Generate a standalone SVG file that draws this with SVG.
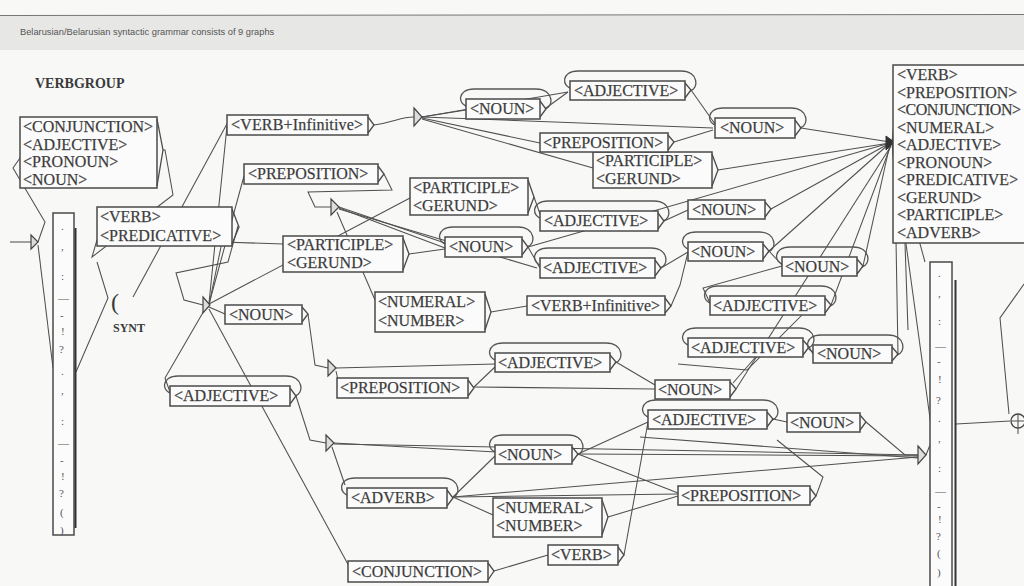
<svg xmlns="http://www.w3.org/2000/svg" width="1024" height="586" viewBox="0 0 1024 586">
<style>
.bg{fill:#f8f8f7}
.b{fill:#fbfbfb;stroke:#4a4a4a;stroke-width:1.5}
.o{fill:none;stroke:#4a4a4a;stroke-width:1.3}
.lp{fill:none;stroke:#555;stroke-width:1.3}
.t{font-family:"Liberation Serif","Times New Roman",serif;font-size:16px;fill:#363636;stroke:#555;stroke-width:0.25}
.p{font-family:"Liberation Serif","Times New Roman",serif;font-size:11px;fill:#555}
.e{fill:none;stroke:#505050;stroke-width:1.05}
.st{fill:#ddd;stroke:#444;stroke-width:1.2}
</style>
<rect class="bg" x="0" y="0" width="1024" height="586"/>
<g id="header">
<rect x="0" y="15" width="1024" height="35" fill="#e7e7e6"/>
<line x1="0" y1="15.5" x2="1024" y2="14.5" stroke="#777" stroke-width="1.2"/>
<text x="20" y="35" font-family="Liberation Sans, Arial, sans-serif" font-size="9.3" fill="#555">Belarusian/Belarusian syntactic grammar consists of 9 graphs</text>
</g>
<text x="35" y="88" font-family="Liberation Serif, Times New Roman, serif" font-size="14" font-weight="bold" fill="#3a3a3a">VERBGROUP</text>

<g id="connectors">
<path class="e" d="M10,242 L31,242"/>
<path class="e" d="M38,242 L45,222 L13,168 L20,158"/>
<path class="e" d="M38,245 L53,368"/>
<path class="e" d="M163,150 L165,150 L173,195 L92,257 L97,240"/>
<path class="e" d="M76,372 L108,298 L97,262"/>
<path class="e" d="M133,297 L228,122"/>
<path class="e" d="M238,226 L228,262 L176,273 L184,300 L203,305"/>
<path class="e" d="M209,303 L227,126"/>
<path class="e" d="M209,304 L244,176"/>
<path class="e" d="M209,304 L410,198"/>
<path class="e" d="M209,305 L222,242 L283,244"/>
<path class="e" d="M209,307 L225,314"/>
<path class="e" d="M205,309 L165,378 L170,392"/>
<path class="e" d="M209,309 L350,568"/>
<path class="e" d="M374,125 C395,122 400,117 414,117"/>
<path class="e" d="M422,117 L466,110"/>
<path class="e" d="M422,117 L568,92"/>
<path class="e" d="M422,117 L713,128"/>
<path class="e" d="M422,118 L540,143"/>
<path class="e" d="M422,119 L593,168"/>
<path class="e" d="M546,108 L568,92"/>
<path class="e" d="M691,90 L715,124"/>
<path class="e" d="M674,142 L713,130"/>
<path class="e" d="M801,128 L890,142"/>
<path class="e" d="M718,170 L890,143"/>
<path class="e" d="M384,174 L392,190 L308,192 L315,207 L331,207"/>
<path class="e" d="M339,207 L445,243"/>
<path class="e" d="M339,208 L445,248"/>
<path class="e" d="M339,209 L537,268"/>
<path class="e" d="M337,212 L375,300"/>
<path class="e" d="M534,197 L540,214"/>
<path class="e" d="M409,254 L445,249"/>
<path class="e" d="M528,247 L890,143"/>
<path class="e" d="M528,247 L540,268"/>
<path class="e" d="M664,221 L688,210"/>
<path class="e" d="M771,209 L890,143"/>
<path class="e" d="M661,268 L688,252"/>
<path class="e" d="M769,251 L782,265"/>
<path class="e" d="M769,251 L890,143"/>
<path class="e" d="M863,266 L890,144"/>
<path class="e" d="M831,305 L891,145"/>
<path class="e" d="M782,266 L703,288 L710,303"/>
<path class="e" d="M491,312 L527,306"/>
<path class="e" d="M671,306 L680,285 L688,252"/>
<path class="e" d="M308,314 L315,365 L328,368"/>
<path class="e" d="M336,368 L496,364"/>
<path class="e" d="M336,371 L338,380"/>
<path class="e" d="M474,387 L655,389"/>
<path class="e" d="M474,387 L496,366"/>
<path class="e" d="M616,362 L655,385"/>
<path class="e" d="M736,389 L891,146"/>
<path class="e" d="M733,383 L760,352"/>
<path class="e" d="M809,347 L813,354"/>
<path class="e" d="M678,364 L747,370 L820,297"/>
<path class="e" d="M898,354 L896,240"/>
<path class="e" d="M905,243 L908,330"/>
<path class="e" d="M296,396 L310,440 L326,443"/>
<path class="e" d="M334,443 L496,452"/>
<path class="e" d="M334,444 L918,455"/>
<path class="e" d="M332,447 L345,485"/>
<path class="e" d="M578,454 L648,422"/>
<path class="e" d="M578,454 L678,493"/>
<path class="e" d="M578,454 L918,456"/>
<path class="e" d="M453,497 L495,456"/>
<path class="e" d="M453,497 L678,494"/>
<path class="e" d="M453,497 L493,515"/>
<path class="e" d="M453,497 L918,457"/>
<path class="e" d="M608,517 L678,496"/>
<path class="e" d="M494,571 L548,555"/>
<path class="e" d="M624,555 L648,422"/>
<path class="e" d="M773,419 L787,422"/>
<path class="e" d="M640,437 L918,458"/>
<path class="e" d="M866,422 L905,455 L918,455"/>
<path class="e" d="M816,496 L823,477 L777,440"/>
<path class="e" d="M926,455 L932,440"/>
<path class="e" d="M892,142 L933,440"/>
<path class="e" d="M892,142 L925,262"/>
<path class="e" d="M892,142 L899,75 M892,142 L899,92 M892,142 L899,110 M892,142 L899,127 M892,142 L899,145 M892,142 L899,162 M892,142 L899,180 M892,142 L899,197 M892,142 L899,215 M892,142 L899,232"/>
<path class="e" d="M956,424 L1010,421"/>
<path class="e" d="M1009,414 L1000,318 L1024,284"/>
</g>

<g id="states">
<polygon class="st" points="31,235 38,242 31,249"/>
<polygon class="st" points="203,297 210,305 203,313"/>
<polygon class="st" points="414,108 422,117 414,126"/>
<polygon class="st" points="331,199 339,207 331,215"/>
<polygon class="st" points="328,360 336,368 328,376"/>
<polygon class="st" points="326,435 334,443 326,451"/>
<polygon class="st" points="918,446 926,455 918,464"/>
<polygon fill="#333" stroke="#333" points="886,136 894,142 886,150"/>
<circle cx="1018" cy="421" r="7" fill="none" stroke="#444" stroke-width="1.3"/>
<path class="e" d="M1011,421 L1024,421 M1018,414 L1018,434"/>
</g>

<g id="synt">
<text x="111" y="310" font-family="Liberation Serif, serif" font-size="24" fill="#3a3a3a">(</text>
<text x="113" y="332" font-family="Liberation Serif, serif" font-size="12" font-weight="bold" fill="#3a3a3a">SYNT</text>
</g>

<g id="n-punct-left">
<rect class="b" x="53" y="213" width="21" height="322"/>
<line x1="75.5" y1="228" x2="75.5" y2="528" stroke="#333" stroke-width="2"/>
<text class="p" x="61" y="230">.</text><text class="p" x="61" y="250">,</text><text class="p" x="61" y="280">:</text><text class="p" x="58" y="302">—</text><text class="p" x="60" y="319">-</text><text class="p" x="61" y="335">!</text><text class="p" x="59" y="353">?</text><text class="p" x="61" y="375">.</text><text class="p" x="61" y="394">,</text><text class="p" x="61" y="425">:</text><text class="p" x="58" y="447">—</text><text class="p" x="60" y="464">-</text><text class="p" x="61" y="480">!</text><text class="p" x="59" y="497">?</text><text class="p" x="60" y="516">(</text><text class="p" x="60" y="534">)</text>
</g>
<g id="n-punct-right">
<rect class="b" x="930" y="262" width="22" height="330"/>
<line x1="955.5" y1="280" x2="955.5" y2="586" stroke="#333" stroke-width="2"/>
<text class="p" x="938" y="277">.</text><text class="p" x="938" y="297">,</text><text class="p" x="938" y="325">:</text><text class="p" x="935" y="350">—</text><text class="p" x="937" y="365">-</text><text class="p" x="938" y="383">!</text><text class="p" x="936" y="404">?</text><text class="p" x="938" y="422">.</text><text class="p" x="938" y="442">,</text><text class="p" x="938" y="472">:</text><text class="p" x="935" y="495">—</text><text class="p" x="937" y="510">-</text><text class="p" x="938" y="523">!</text><text class="p" x="936" y="540">?</text><text class="p" x="937" y="557">(</text><text class="p" x="937" y="576">)</text>
</g>

<g id="n-box1">
<rect class="b" x="20" y="117" width="137" height="71"/>
<path class="o" d="M157,119 L163,150 L157,186"/>
<text class="t" x="23" y="132">&lt;CONJUNCTION&gt;</text>
<text class="t" x="23" y="150">&lt;ADJECTIVE&gt;</text>
<text class="t" x="23" y="167">&lt;PRONOUN&gt;</text>
<text class="t" x="23" y="185">&lt;NOUN&gt;</text>
</g>
<g id="n-verbpred">
<rect class="b" x="97" y="207" width="135" height="39"/>
<path class="o" d="M232,209 L239,227 L232,244"/>
<text class="t" x="100" y="222">&lt;VERB&gt;</text>
<text class="t" x="100" y="241">&lt;PREDICATIVE&gt;</text>
</g>
<g id="n-bigbox">
<rect class="b" x="893" y="65" width="140" height="178"/>
<text class="t" x="897" y="80">&lt;VERB&gt;</text>
<text class="t" x="897" y="97.5">&lt;PREPOSITION&gt;</text>
<text class="t" x="897" y="115" textLength="124">&lt;CONJUNCTION&gt;</text>
<text class="t" x="897" y="132.5">&lt;NUMERAL&gt;</text>
<text class="t" x="897" y="150">&lt;ADJECTIVE&gt;</text>
<text class="t" x="897" y="167.5">&lt;PRONOUN&gt;</text>
<text class="t" x="897" y="185">&lt;PREDICATIVE&gt;</text>
<text class="t" x="897" y="202.5">&lt;GERUND&gt;</text>
<text class="t" x="897" y="220">&lt;PARTICIPLE&gt;</text>
<text class="t" x="897" y="237.5">&lt;ADVERB&gt;</text>
</g>

<g id="n-vinf1"><rect class="b" x="227" y="115" width="141" height="20"/><path class="o" d="M368,117 L374,125 L368,133"/><text class="t" x="231" y="130" textLength="132">&lt;VERB+Infinitive&gt;</text></g>
<g id="n-prep2"><rect class="b" x="244" y="164" width="134" height="20"/><path class="o" d="M378,166 L384,174 L378,182"/><text class="t" x="248" y="179">&lt;PREPOSITION&gt;</text></g>
<g id="n-pg1"><rect class="b" x="283" y="236" width="120" height="36"/><path class="o" d="M403,238 L409,254 L403,270"/><text class="t" x="287" y="250">&lt;PARTICIPLE&gt;</text><text class="t" x="287" y="268">&lt;GERUND&gt;</text></g>
<g id="n-pg2"><rect class="b" x="410" y="178" width="118" height="37"/><path class="o" d="M528,180 L534,197 L528,213"/><text class="t" x="413" y="193">&lt;PARTICIPLE&gt;</text><text class="t" x="413" y="211">&lt;GERUND&gt;</text></g>
<g id="n-pg3"><rect class="b" x="593" y="152" width="119" height="36"/><path class="o" d="M712,154 L718,170 L712,186"/><text class="t" x="596" y="166">&lt;PARTICIPLE&gt;</text><text class="t" x="596" y="184">&lt;GERUND&gt;</text></g>
<g id="n-numnum1"><rect class="b" x="375" y="292" width="110" height="40"/><path class="o" d="M485,294 L491,312 L485,330"/><text class="t" x="378" y="307">&lt;NUMERAL&gt;</text><text class="t" x="378" y="326">&lt;NUMBER&gt;</text></g>
<g id="n-numnum2"><rect class="b" x="493" y="498" width="109" height="39"/><path class="o" d="M602,500 L608,517 L602,535"/><text class="t" x="496" y="513">&lt;NUMERAL&gt;</text><text class="t" x="496" y="531">&lt;NUMBER&gt;</text></g>
<g id="n-vinf2"><rect class="b" x="527" y="296" width="138" height="19"/><path class="o" d="M665,298 L671,306 L665,313"/><text class="t" x="531" y="311" textLength="129">&lt;VERB+Infinitive&gt;</text></g>

<g id="n-noun1"><path class="lp" d="M469,107 C457,105 457,89 474,89 L536,89 C554,89 554,107 545,109"/><rect class="b" x="466" y="99" width="74" height="20"/><path class="o" d="M540,101 L546,109 L540,117"/><text class="t" x="470" y="114">&lt;NOUN&gt;</text></g>
<g id="n-adj1"><path class="lp" d="M573,89 C561,87 561,71 578,71 L681,71 C699,71 699,89 690,91"/><rect class="b" x="570" y="81" width="115" height="19"/><path class="o" d="M685,83 L691,90 L685,98"/><text class="t" x="574" y="96">&lt;ADJECTIVE&gt;</text></g>
<g id="n-prep1"><rect class="b" x="540" y="133" width="128" height="19"/><path class="o" d="M668,135 L674,142 L668,150"/><text class="t" x="543" y="148">&lt;PREPOSITION&gt;</text></g>
<g id="n-noun2"><path class="lp" d="M718,126 C706,124 706,108 723,108 L791,108 C809,108 809,126 800,128"/><rect class="b" x="715" y="118" width="80" height="20"/><path class="o" d="M795,120 L801,128 L795,136"/><text class="t" x="720" y="133">&lt;NOUN&gt;</text></g>
<g id="n-noun3"><path class="lp" d="M448,245 C436,243 436,227 453,227 L518,227 C536,227 536,245 527,247"/><rect class="b" x="445" y="237" width="77" height="20"/><path class="o" d="M522,239 L528,247 L522,255"/><text class="t" x="449" y="252">&lt;NOUN&gt;</text></g>
<g id="n-adj2"><path class="lp" d="M543,219 C531,217 531,201 548,201 L654,201 C672,201 672,219 663,221"/><rect class="b" x="540" y="211" width="118" height="20"/><path class="o" d="M658,213 L664,221 L658,229"/><text class="t" x="544" y="226">&lt;ADJECTIVE&gt;</text></g>
<g id="n-adj3"><path class="lp" d="M543,266 C531,264 531,248 548,248 L651,248 C669,248 669,266 660,268"/><rect class="b" x="540" y="258" width="115" height="20"/><path class="o" d="M655,260 L661,268 L655,276"/><text class="t" x="543" y="273">&lt;ADJECTIVE&gt;</text></g>
<g id="n-noun4"><rect class="b" x="688" y="200" width="77" height="19"/><path class="o" d="M765,202 L771,209 L765,217"/><text class="t" x="692" y="215">&lt;NOUN&gt;</text></g>
<g id="n-noun5"><path class="lp" d="M691,250 C679,248 679,232 696,232 L759,232 C777,232 777,250 768,252"/><rect class="b" x="688" y="242" width="75" height="19"/><path class="o" d="M763,244 L769,251 L763,259"/><text class="t" x="691" y="257">&lt;NOUN&gt;</text></g>
<g id="n-noun6"><path class="lp" d="M785,265 C773,263 773,247 790,247 L853,247 C871,247 871,265 862,267"/><rect class="b" x="782" y="257" width="75" height="19"/><path class="o" d="M857,259 L863,266 L857,274"/><text class="t" x="785" y="272">&lt;NOUN&gt;</text></g>
<g id="n-adj4"><path class="lp" d="M713,304 C701,302 701,286 718,286 L821,286 C839,286 839,304 830,306"/><rect class="b" x="710" y="296" width="115" height="19"/><path class="o" d="M825,298 L831,305 L825,313"/><text class="t" x="713" y="311">&lt;ADJECTIVE&gt;</text></g>
<g id="n-adj6"><path class="lp" d="M691,346 C679,344 679,328 696,328 L799,328 C817,328 817,346 808,348"/><rect class="b" x="688" y="338" width="115" height="19"/><path class="o" d="M803,340 L809,347 L803,355"/><text class="t" x="691" y="353">&lt;ADJECTIVE&gt;</text></g>
<g id="n-noun9"><path class="lp" d="M816,353 C804,351 804,335 821,335 L888,335 C906,335 906,353 897,355"/><rect class="b" x="813" y="345" width="79" height="18"/><path class="o" d="M892,347 L898,354 L892,361"/><text class="t" x="817" y="359">&lt;NOUN&gt;</text></g>
<g id="n-noun8"><rect class="b" x="655" y="380" width="75" height="19"/><path class="o" d="M730,382 L736,389 L730,397"/><text class="t" x="658" y="395">&lt;NOUN&gt;</text></g>
<g id="n-adj5"><path class="lp" d="M498,361 C486,359 486,343 503,343 L606,343 C624,343 624,361 615,363"/><rect class="b" x="495" y="353" width="115" height="19"/><path class="o" d="M610,355 L616,362 L610,370"/><text class="t" x="498" y="368">&lt;ADJECTIVE&gt;</text></g>
<g id="n-prep3"><rect class="b" x="337" y="378" width="131" height="20"/><path class="o" d="M468,380 L474,388 L468,396"/><text class="t" x="340" y="393">&lt;PREPOSITION&gt;</text></g>
<g id="n-adj7"><path class="lp" d="M173,394 C161,392 161,376 178,376 L286,376 C304,376 304,394 295,396"/><rect class="b" x="170" y="386" width="120" height="20"/><path class="o" d="M290,388 L296,396 L290,404"/><text class="t" x="174" y="401">&lt;ADJECTIVE&gt;</text></g>
<g id="n-noun7"><rect class="b" x="225" y="305" width="77" height="19"/><path class="o" d="M302,307 L308,314 L302,322"/><text class="t" x="229" y="320">&lt;NOUN&gt;</text></g>
<g id="n-adj8"><path class="lp" d="M651,418 C639,416 639,400 656,400 L763,400 C781,400 781,418 772,420"/><rect class="b" x="648" y="410" width="119" height="19"/><path class="o" d="M767,412 L773,419 L767,427"/><text class="t" x="652" y="425">&lt;ADJECTIVE&gt;</text></g>
<g id="n-noun11"><rect class="b" x="787" y="413" width="73" height="19"/><path class="o" d="M860,415 L866,422 L860,430"/><text class="t" x="790" y="428">&lt;NOUN&gt;</text></g>
<g id="n-noun10"><path class="lp" d="M498,453 C486,451 486,435 503,435 L568,435 C586,435 586,453 577,455"/><rect class="b" x="495" y="445" width="77" height="19"/><path class="o" d="M572,447 L578,454 L572,462"/><text class="t" x="498" y="460">&lt;NOUN&gt;</text></g>
<g id="n-prep4"><rect class="b" x="678" y="486" width="132" height="19"/><path class="o" d="M810,488 L816,496 L810,503"/><text class="t" x="681" y="501">&lt;PREPOSITION&gt;</text></g>
<g id="n-adverb"><path class="lp" d="M350,496 C338,494 338,478 355,478 L443,478 C461,478 461,496 452,498"/><rect class="b" x="347" y="488" width="100" height="20"/><path class="o" d="M447,490 L453,498 L447,506"/><text class="t" x="351" y="503">&lt;ADVERB&gt;</text></g>
<g id="n-verb"><rect class="b" x="548" y="545" width="70" height="20"/><path class="o" d="M618,547 L624,555 L618,563"/><text class="t" x="551" y="560">&lt;VERB&gt;</text></g>
<g id="n-conj"><rect class="b" x="348" y="561" width="140" height="21"/><path class="o" d="M488,563 L494,571 L488,580"/><text class="t" x="352" y="577">&lt;CONJUNCTION&gt;</text></g>
</svg>
